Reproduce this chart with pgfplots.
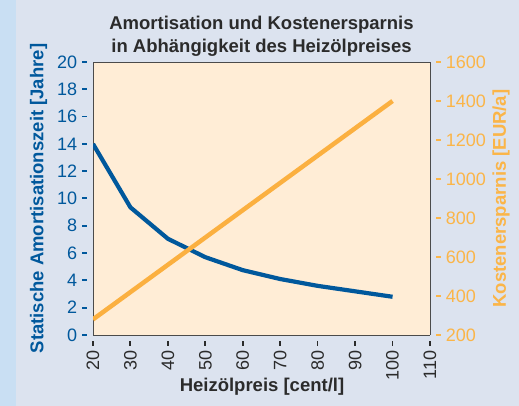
\documentclass[border=0pt]{standalone}
\usepackage{pgfplots}
\pgfplotsset{compat=1.18}
\usepackage{fontspec}
\setmainfont{Liberation Sans}
\definecolor{bgmain}{HTML}{DCE3EF}
\definecolor{bgstrip}{HTML}{C9DFF3}
\definecolor{plotbg}{HTML}{FFEDD6}
\definecolor{cblue}{HTML}{00589C}
\definecolor{corange}{HTML}{FBB040}
\definecolor{ctick}{HTML}{FBB548}
\definecolor{ctitle}{HTML}{2B2B2B}
\newcommand\tk{\rule[0.3em]{0.26em}{0.1em}}
\begin{document}
\begin{tikzpicture}[x=1pt,y=1pt]
\useasboundingbox (0,0) rectangle (519,406);
\fill[bgmain] (0,0) rectangle (519,406);
\fill[bgstrip] (0,0) rectangle (16,406);
\begin{axis}[
  at={(93pt,71pt)}, anchor=south west,
  scale only axis, width=337pt, height=273pt,
  xmin=20, xmax=110, ymin=0, ymax=20,
  axis background/.style={fill=plotbg},
  axis line style={draw=ctitle!85, line width=0.8pt},
  major tick length=0pt,
  xtick={20,30,...,110},
  xticklabels={20 \tk,30 \tk,40 \tk,50 \tk,60 \tk,70 \tk,80 \tk,90 \tk,100 \tk,110 \tk},
  xticklabel style={rotate=90, anchor=east, font=\fontsize{18}{20}\selectfont, text=ctitle, inner xsep=6pt, inner ysep=0pt},
  ytick={0,2,...,20},
  yticklabels={0 \tk,2 \tk,4 \tk,6 \tk,8 \tk,10 \tk,12 \tk,14 \tk,16 \tk,18 \tk,20 \tk},
  yticklabel style={font=\fontsize{18}{20}\selectfont, text=cblue, inner xsep=6pt, inner ysep=0pt},
  axis y line*=left,
  axis x line*=bottom,
]
\addplot[cblue, line width=4.2pt, line join=round] coordinates {
 (20,14.0) (30,9.35) (40,7.05) (50,5.7) (60,4.75) (70,4.1) (80,3.6) (90,3.2) (100,2.8)};
\end{axis}
\begin{axis}[
  at={(93pt,71pt)}, anchor=south west,
  scale only axis, width=337pt, height=273pt,
  xmin=20, xmax=110, ymin=200, ymax=1600,
  axis x line*=top, xtick=\empty,
  axis y line*=right,
  axis line style={draw=ctitle!85, line width=0.8pt},
  major tick length=0pt,
  ytick={200,400,...,1600},
  yticklabels={\tk{} 200,\tk{} 400,\tk{} 600,\tk{} 800,\tk{} 1000,\tk{} 1200,\tk{} 1400,\tk{} 1600},
  yticklabel style={font=\fontsize{18}{20}\selectfont, text=ctick, inner xsep=6pt, inner ysep=0pt},
]
\addplot[corange, line width=4.5pt] coordinates {(20,280) (100,1400)};
\end{axis}
\node[anchor=base, font=\bfseries\fontsize{18.5}{20}\selectfont, text=ctitle] at (261.5,376) {Amortisation und Kostenersparnis};
\node[anchor=base, font=\bfseries\fontsize{18.5}{20}\selectfont, text=ctitle] at (261.5,353) {in Abhängigkeit des Heizölpreises};
\node[anchor=base, font=\bfseries\fontsize{18.5}{20}\selectfont, text=ctitle] at (262,14) {Heizölpreis [cent/l]};
\node[rotate=90, font=\bfseries\fontsize{18.5}{20}\selectfont, text=cblue] at (38.5,207.5) {Statische Amortisationszeit [Jahre]};
\node[rotate=90, font=\bfseries\fontsize{18.5}{20}\selectfont, text=ctick] at (501,207.5) {Kostenersparnis [EUR/a]};
\end{tikzpicture}
\end{document}
